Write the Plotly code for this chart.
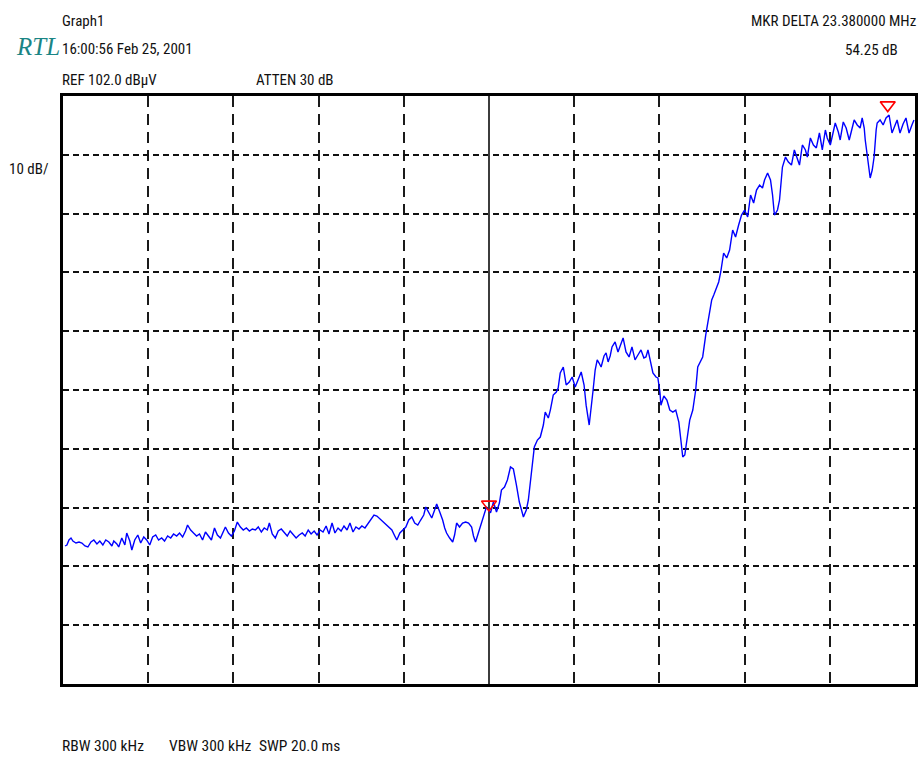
import plotly.graph_objects as go

# ---- data (frequency offset in MHz, level in dBuV) ----
freq_mhz = [
    0.12, 0.23, 0.35, 0.47, 0.58, 0.76, 0.94, 1.11, 1.29, 1.46, 1.64, 1.81, 1.99, 2.16, 2.34, 2.51,
    2.69, 2.87, 2.98, 3.16, 3.27, 3.45, 3.63, 3.74, 3.92, 4.04, 4.21, 4.39, 4.56, 4.74, 4.91, 5.09,
    5.26, 5.44, 5.61, 5.79, 5.96, 6.14, 6.32, 6.49, 6.67, 6.84, 7.02, 7.19, 7.31, 7.49, 7.66, 7.84,
    8.01, 8.19, 8.36, 8.54, 8.71, 8.89, 9.06, 9.24, 9.42, 9.53, 9.71, 9.88, 10.06, 10.23, 10.41, 10.58,
    10.76, 10.94, 11.11, 11.29, 11.46, 11.64, 11.81, 11.99, 12.11, 12.28, 12.46, 12.63, 12.81, 12.98,
    13.16, 13.33, 13.51, 13.68, 13.86, 14.04, 14.21, 14.39, 14.56, 14.74, 14.91, 15.09, 15.26, 15.44,
    15.61, 15.79, 15.96, 16.14, 16.32, 16.49, 16.67, 16.84, 17.02, 17.19, 17.37, 17.54, 17.72, 17.89,
    18.07, 18.25, 18.42, 18.60, 18.77, 18.95, 19.12, 19.30, 19.47, 19.59, 19.77, 19.94, 20.12, 20.29,
    20.47, 20.64, 20.82, 20.99, 21.17, 21.29, 21.46, 21.64, 21.81, 21.93, 22.11, 22.28, 22.40, 22.51,
    22.69, 22.87, 22.98, 23.10, 23.27, 23.45, 23.63, 23.80, 23.98, 24.09, 24.21, 24.39, 24.56, 24.74,
    24.85, 24.97, 25.09,
    25.26, 25.44, 25.61, 25.73, 25.91, 26.08, 26.26, 26.43, 26.61, 26.78, 27.02, 27.19, 27.31, 27.49,
    27.66, 27.84, 28.01, 28.19, 28.30, 28.48, 28.60, 28.77, 28.95, 29.06, 29.18, 29.36, 29.53, 29.71,
    29.88, 30.06, 30.23, 30.41, 30.58, 30.70, 30.88, 30.99, 31.11, 31.23, 31.35, 31.46, 31.58, 31.75,
    31.87, 31.99, 32.11, 32.22, 32.40, 32.57, 32.75, 32.87, 33.04, 33.22, 33.39, 33.57, 33.74, 33.92,
    34.09, 34.21, 34.33, 34.50, 34.62, 34.80, 34.91, 35.03, 35.09, 35.26, 35.44, 35.61, 35.79, 35.96,
    36.14, 36.26, 36.37, 36.49, 36.61, 36.78, 36.96, 37.13, 37.25, 37.43, 37.54, 37.72, 37.90, 38.07,
    38.19, 38.30, 38.48, 38.60, 38.77, 38.95, 39.12, 39.30, 39.47, 39.65, 39.82, 40.00, 40.18, 40.35,
    40.53, 40.70, 40.88, 41.05, 41.17, 41.35, 41.52, 41.64, 41.75, 41.93, 42.05, 42.22, 42.40, 42.57,
    42.75, 42.92, 43.10, 43.22, 43.39, 43.57, 43.68, 43.86, 44.04, 44.21, 44.39, 44.56, 44.74, 44.85,
    45.03, 45.20, 45.32, 45.50, 45.61, 45.79, 45.96, 46.14, 46.32, 46.43, 46.61, 46.78, 46.90, 47.02,
    47.08, 47.19, 47.37, 47.49, 47.60, 47.72, 47.78, 47.95, 48.13, 48.30, 48.48, 48.65, 48.83, 48.95,
    49.12, 49.30, 49.47, 49.65, 49.82, 49.94,
]

level_dbuv = [
    25.47, 25.64, 26.49, 26.83, 26.32, 25.98, 26.15, 25.98, 25.47, 25.30, 26.15, 26.49, 25.81, 26.32, 25.64, 26.49,
    26.15, 25.47, 26.32, 25.81, 25.30, 26.83, 25.64, 27.68, 26.32, 24.79, 26.49, 27.34, 25.98, 27.00, 26.49, 25.64,
    27.00, 27.34, 26.49, 26.83, 26.32, 27.17, 26.83, 27.51, 27.17, 27.68, 27.00, 28.02, 29.04, 28.19, 27.68, 27.17,
    27.51, 26.49, 27.85, 27.17, 26.49, 28.53, 27.34, 26.83, 27.85, 28.70, 27.68, 27.17, 28.02, 29.55, 28.70, 28.19,
    28.53, 28.02, 28.36, 28.19, 28.70, 27.85, 28.53, 28.19, 29.38, 27.51, 26.83, 28.02, 28.36, 27.68,
    27.17, 28.02, 27.34, 26.83, 27.34, 27.68, 27.17, 28.19, 27.51, 28.02, 27.34, 28.19, 27.85, 28.87,
    27.51, 29.38, 27.68, 28.53, 28.02, 28.87, 28.19, 29.38, 27.85, 28.70, 28.36, 28.87, 28.53, 29.21,
    29.89, 30.74, 30.57, 30.06, 29.72, 29.21, 28.70, 28.19, 27.17, 26.49, 27.68, 28.19, 28.70, 29.89,
    30.40, 29.38, 29.04, 29.89, 30.74, 32.10, 31.25, 30.23, 31.59, 32.61, 31.25, 29.89, 28.53, 27.68,
    26.83, 26.15, 27.34, 29.38, 28.70, 29.38, 29.55, 29.38, 28.70, 27.17, 26.15, 27.85, 29.04, 30.74,
    32.10, 31.59, 31.10,
    32.95, 31.25, 32.78, 34.99, 35.50, 36.69, 38.90, 38.56, 35.84, 32.95, 30.40, 31.59, 33.29, 37.54,
    42.30, 43.49, 44.00, 46.04, 48.25, 47.23, 48.59, 51.14, 51.66, 52.34, 54.89, 55.91, 52.85, 53.36,
    54.21, 52.51, 53.70, 55.06, 52.85, 49.42, 46.04, 48.59, 52.00, 55.40, 57.11, 56.59, 55.91, 57.79,
    58.30, 56.77, 57.79, 59.32, 60.17, 58.47, 60.00, 60.85, 58.47, 57.62, 59.32, 57.11, 57.95, 58.81,
    57.45, 57.62, 58.81, 56.25, 54.89, 54.21, 54.04, 51.66, 49.42, 50.98, 50.30, 48.59, 48.25, 48.59,
    46.55, 43.49, 40.60, 40.94, 43.49, 46.89, 48.59, 52.00, 55.91, 57.11, 57.62, 61.36, 64.25, 67.31,
    68.16, 69.01, 70.37, 72.07, 75.30, 74.45, 75.81, 79.21, 78.02, 80.06, 81.76, 82.61, 81.42, 85.16,
    83.80, 86.01, 86.86, 86.35, 87.71, 88.90, 87.71, 85.16, 81.76, 82.61, 84.31, 89.92, 91.62, 90.77,
    90.26, 92.82, 91.11, 90.26, 93.67, 92.82, 91.62, 94.86, 93.67, 93.16, 95.71, 92.82, 96.22, 94.86,
    93.67, 96.22, 97.41, 95.88, 94.52, 97.58, 96.56, 94.52, 96.73, 97.92, 97.07, 96.56, 98.26, 96.56,
    94.52, 91.96, 88.05, 89.41, 91.62, 96.22, 97.41, 97.92, 97.07, 98.26, 98.77, 95.71, 97.07, 97.92,
    95.71, 97.24, 98.26, 95.71, 97.07, 97.92,
]

marker_mhz = [25.00, 48.40]
marker_dbuv = [32.55, 100.45]

ref_level = 102.0
db_per_div = 10
span_mhz = 50
mhz_per_div = 5

header_left = ["Graph1", "16:00:56 Feb 25, 2001", "REF 102.0 dB\u00b5V"]
atten_text = "ATTEN 30 dB"
mkr_text = ["MKR DELTA 23.380000 MHz", "54.25 dB"]
scale_text = "10 dB/"
footer = ["RBW 300 kHz", "VBW 300 kHz", "SWP 20.0 ms"]
logo = "RTL"

# ---- layout geometry (pixels) ----
W, H = 923, 766
L, R, T, B = 63, 918, 96, 684

FONT = "Liberation Sans Narrow, Arial Narrow, Roboto Condensed, DejaVu Sans Condensed, Roboto, sans-serif"


def paper(px, py):
    return (px - L) / (R - L), (B - py) / (B - T)


fig = go.Figure()

fig.add_trace(go.Scatter(
    x=freq_mhz, y=level_dbuv, mode="lines",
    line=dict(color="#0000ff", width=1.4), hoverinfo="skip", showlegend=False,
))
fig.add_trace(go.Scatter(
    x=marker_mhz, y=marker_dbuv, mode="markers",
    marker=dict(symbol="triangle-down-open", size=13, color="#ff0000", line=dict(width=1.6, color="#ff0000")),
    hoverinfo="skip", showlegend=False,
))

# centre reference line
fig.add_shape(type="line", x0=span_mhz / 2, x1=span_mhz / 2, y0=ref_level - 10 * db_per_div, y1=ref_level,
              xref="x", yref="y", line=dict(color="#3c3c3c", width=2), layer="between")

annots = []


def add_text(text, px, py, anchor="left", size=15, color="#111111", family=FONT):
    x, y = paper(px, py)
    annots.append(dict(text=text, x=x, y=y, xref="paper", yref="paper", xanchor=anchor,
                       yanchor="middle", showarrow=False, borderpad=0,
                       xshift=-2 if anchor == "left" else 2,
                       font=dict(family=family, size=size, color=color)))


add_text(header_left[0], 63, 21)
add_text(header_left[1], 63, 49)
add_text(header_left[2], 63, 80)
add_text(atten_text, 258, 80)
add_text(mkr_text[0], 918, 21, anchor="right")
add_text(mkr_text[1], 900, 50, anchor="right")
add_text(scale_text, 10, 169)
add_text(footer[0], 63, 746, size=15.5)
add_text(footer[1], 170, 746, size=15.5)
add_text(footer[2], 261, 746, size=15.5)
add_text("<i>" + logo + "</i>", 17, 46, size=25, color="#1a8585",
         family="Liberation Serif, DejaVu Serif, serif")

fig.update_layout(
    width=W, height=H,
    margin=dict(l=L, r=W - R, t=T, b=H - B, pad=0),
    paper_bgcolor="white", plot_bgcolor="white",
    annotations=annots,
    showlegend=False,
    hovermode=False,
    xaxis=dict(range=[0, span_mhz], tick0=0, dtick=mhz_per_div, showticklabels=False, ticks="",
               showgrid=True, gridcolor="#1a1a1a", gridwidth=1.5, griddash="11px,7px",
               zeroline=False, showline=True, mirror=True, linecolor="black", linewidth=3),
    yaxis=dict(range=[ref_level - 10 * db_per_div, ref_level], tick0=2, dtick=db_per_div,
               showticklabels=False, ticks="",
               showgrid=True, gridcolor="#111111", gridwidth=2, griddash="6px,4px",
               zeroline=False, showline=True, mirror=True, linecolor="black", linewidth=3),
)

fig.write_html("out.html", config={"displayModeBar": False},
               post_script="document.body.style.margin='0';document.body.style.overflow='hidden';")
